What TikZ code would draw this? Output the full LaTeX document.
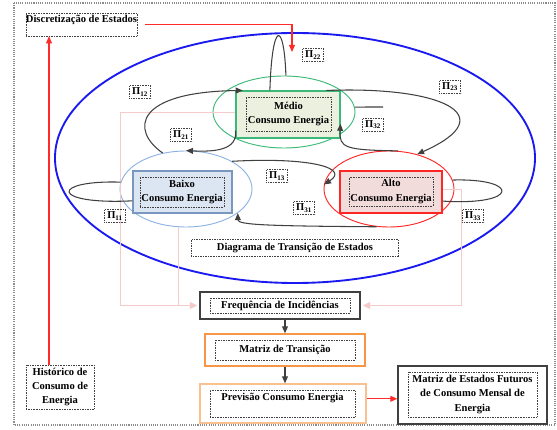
\documentclass[tikz,border=0pt]{standalone}
\usepackage{fontspec}
\setmainfont{Liberation Serif}
\usetikzlibrary{shapes.geometric,arrows.meta}

\definecolor{azul}{HTML}{1A1AF0}
\definecolor{verde}{HTML}{3CB878}
\definecolor{verdeclaro}{HTML}{EBF1DE}
\definecolor{azulclaro}{HTML}{DCE6F2}
\definecolor{azulborda}{HTML}{8DB3E2}
\definecolor{vermclaro}{HTML}{F2DCDB}
\definecolor{laranja}{HTML}{F79646}
\definecolor{laranjaclaro}{HTML}{FAC090}
\definecolor{rosa}{HTML}{F4CACA}
\definecolor{vermelho}{HTML}{FF2A2A}

\tikzset{
    moldura/.style={draw=black!45, densely dotted, line width=0.9pt},
    caixa/.style={draw=black!75, densely dotted, inner sep=1pt, align=center,
        font=\bfseries\fontsize{9}{12}\selectfont},
    texto/.style={inner sep=1pt, align=center, font=\bfseries\fontsize{9}{12}\selectfont},
    rotulo/.style={draw=black!75, densely dotted, inner sep=0.5pt, minimum width=0.64cm,
        minimum height=0.38cm, font=\bfseries\fontsize{9}{10}\selectfont},
    estado/.style={draw, line width=0.9pt},
    elipse/.style={ellipse, draw, line width=0.8pt},
    bloco/.style={draw, line width=1.1pt},
    transicao/.style={draw=black!75, line width=0.9pt},
    seta/.style={transicao, -{Triangle[length=6pt,width=5pt]}},
    setavermelha/.style={draw=vermelho, line width=0.9pt, -{Triangle[length=6pt,width=5pt]}},
    retorno/.style={draw=rosa, line width=0.8pt}
}

\begin{document}
\begin{tikzpicture}[x=0.03cm, y=-0.03cm]
    \useasboundingbox (0,0) rectangle (557,430);

    %Moldura
        \draw[moldura] (14,3) rectangle (555,425);

    %Caixas do topo e historico
        \node[caixa, minimum width=3.33cm, minimum height=0.69cm] (disc) at (81.5,24.5) {};
        \node[texto, anchor=north] (tdisc) at ([yshift=-1pt]disc.north) {Discretização de Estados};
        \node[caixa, minimum width=2.04cm, minimum height=1.32cm] (hist) at (60,387) {Histórico de\\Consumo de\\Energia};

    %Blocos de baixo
        \node[bloco, draw=black!75, minimum width=4.8cm, minimum height=0.81cm] (freq) at (280,305.5) {};
        \node[caixa, minimum width=4.2cm, minimum height=0.45cm] (tfreq) at (280,305.5) {Frequência de Incidências};
        \node[bloco, draw=laranja, minimum width=4.8cm, minimum height=0.96cm] (matriz) at (285,350) {};
        \node[caixa, minimum width=4.2cm, minimum height=0.6cm] (tmatriz) at (285,350) {Matriz de Transição};
        \node[bloco, draw=laranjaclaro, minimum width=4.98cm, minimum height=1.17cm] (prev) at (283,403.5) {};
        \node[caixa, minimum width=4.35cm, minimum height=0.81cm] (tprev) at (282.5,403.5) {};
        \node[texto, anchor=north] (tprevtxt) at ([yshift=-2pt]tprev.north) {Previsão Consumo Energia};
        \node[bloco, draw=black!75, minimum width=4.47cm, minimum height=1.74cm] (fut) at (472.5,395) {};
        \node[caixa, minimum width=3.87cm, minimum height=1.35cm] (tfut) at (472.5,394.5) {Matriz de Estados Futuros\\de Consumo Mensal de\\Energia};

    %Estados
        \node[elipse, draw=azul, line width=1.6pt, minimum width=14.4cm, minimum height=7.5cm] (grande) at (295,158) {};
        \node[elipse, draw=verde, minimum width=4.26cm, minimum height=2.16cm] (emedio) at (284,112) {};
        \node[elipse, draw=azulborda, minimum width=3.96cm, minimum height=2.28cm] (ebaixo) at (186,189) {};
        \node[elipse, draw=red!85, minimum width=3.9cm, minimum height=2.28cm] (ealto) at (389,189) {};

    %Linhas de retorno
        \coordinate (re) at (120,0);
        \coordinate (rd) at (461,0);
        \draw[retorno, -{Triangle[length=6pt,width=6pt]}, shorten >=2pt] (emedio.west -| 236,0) -| (re |- freq.west) -- (freq.west);
        \draw[retorno] (ebaixo.south -| 178,0) -- (178,0 |- freq.west);
        \draw[retorno, -{Triangle[length=6pt,width=6pt]}, shorten >=2pt] (ealto.east -| 442,0) -| (rd |- freq.east) -- (freq.east);

        \node[estado, draw=verde, fill=verdeclaro, minimum width=3.12cm, minimum height=1.41cm] (medio) at (288,114.5) {};
        \node[caixa, minimum width=2.55cm, minimum height=1.02cm] (tmedio) at (288.5,114) {Médio\\Consumo Energia};
        \node[estado, draw=azulborda!85!black, fill=azulclaro, minimum width=2.97cm, minimum height=1.26cm] (baixo) at (182.5,192) {};
        \node[caixa, minimum width=2.4cm, minimum height=0.9cm] (tbaixo) at (182,192) {Baixo\\Consumo Energia};
        \node[estado, draw=red!85, fill=vermclaro, minimum width=3.06cm, minimum height=1.26cm] (alto) at (391,192) {};
        \node[caixa, minimum width=2.46cm, minimum height=0.87cm] (talto) at (391,191.5) {Alto\\Consumo Energia};

        \node[caixa, minimum width=6.21cm, minimum height=0.51cm] (diag) at (295,248) {Diagrama de Transição de Estados};

    %Transicoes
        \draw[transicao] (medio.127) .. controls (272,20) and (284,20) .. (emedio.87);
        \draw[seta] (ebaixo.123) .. controls (130,130) and (135,92) .. (medio.152);
        \draw[seta] (medio.197) .. controls (238,150) and (215,152) .. (ebaixo.90);
        \draw[seta] (medio.32) .. controls (440,86) and (505,115) .. (ealto.51);
        \draw[seta] (ealto.77) .. controls (345,150) and (339,148) .. (medio.-10);
        \draw[seta] (ebaixo.31) .. controls (310,157) and (350,168) .. (ealto.176);
        \draw[seta] (ealto.252) .. controls (270,226) and (238,225) .. (ebaixo.-25);
        \draw[transicao] (ebaixo.174) .. controls (50,180) and (50,205) .. (baixo.190);
        \draw[transicao] (ealto.8) .. controls (520,178) and (520,206) .. (alto.-10);
        \coordinate (ponta) at (383,107);
        \draw[transicao] (emedio.4) -- (ponta);

    %Rotulos
        \node[rotulo] (p12) at (140,92) {Π\textsubscript{12}};
        \node[rotulo] (p22) at (313,55) {Π\textsubscript{22}};
        \node[rotulo] (p23) at (450,87) {Π\textsubscript{23}};
        \node[rotulo] (p32) at (373,125) {Π\textsubscript{32}};
        \node[rotulo] (p21) at (181,135) {Π\textsubscript{21}};
        \node[rotulo] (p13) at (277,176) {Π\textsubscript{13}};
        \node[rotulo] (p31) at (304,208) {Π\textsubscript{31}};
        \node[rotulo] (p11) at (115,216) {Π\textsubscript{11}};
        \node[rotulo] (p33) at (473,216) {Π\textsubscript{33}};

    %Setas
        \coordinate (hx) at (49,0);
        \coordinate (dv) at (292,52);
        \draw[setavermelha] (hist.north -| hx) -- (disc.south -| hx);
        \draw[setavermelha] ([xshift=7pt]disc.east) -| (dv);
        \draw[seta] (matriz.north |- freq.south) -- (matriz.north);
        \draw[seta] (matriz.south) -- (matriz.south |- prev.north);
        \draw[setavermelha] ([yshift=4pt]prev.east) -- ([yshift=4pt]prev.east -| fut.west);
\end{tikzpicture}
\end{document}
